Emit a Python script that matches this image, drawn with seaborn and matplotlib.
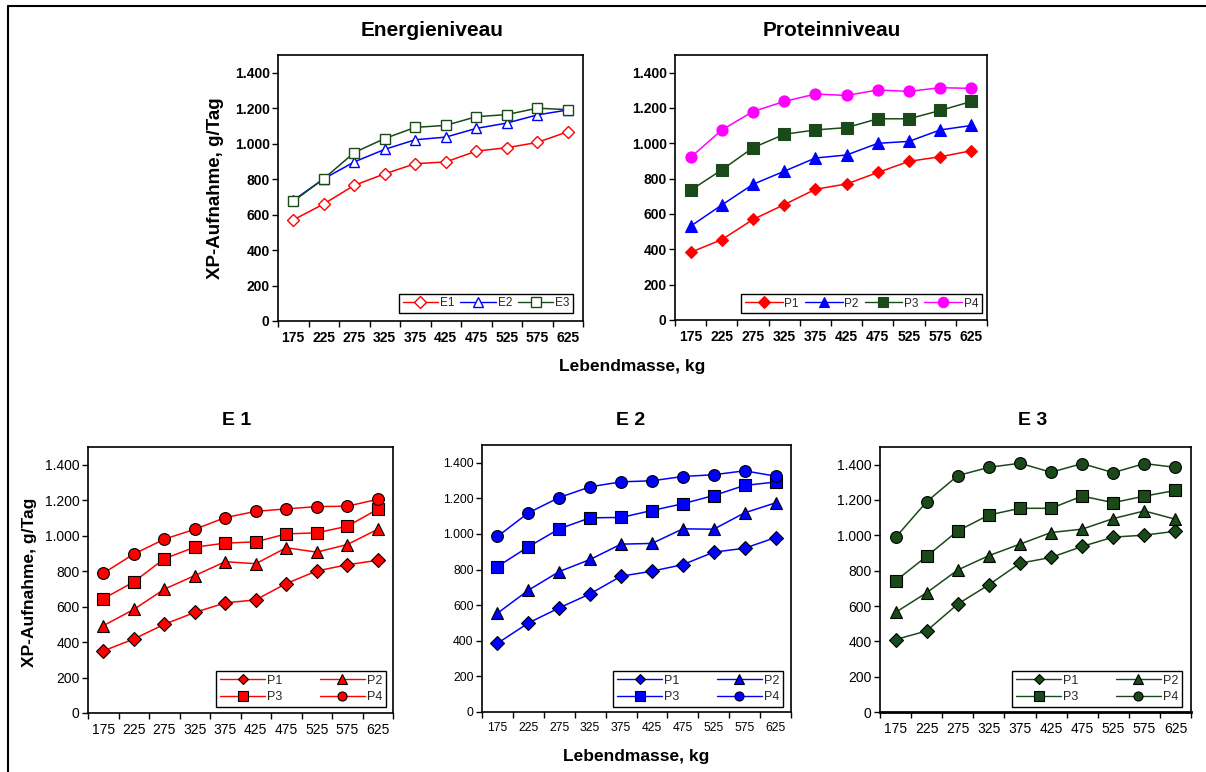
import numpy as np
import pandas as pd
import matplotlib
matplotlib.use("Agg")
import matplotlib.pyplot as plt
import seaborn as sns
from matplotlib.ticker import FuncFormatter
from matplotlib.lines import Line2D

sns.set_theme(style="white")
plt.rcParams['font.family'] = ['Liberation Sans', 'DejaVu Sans']

weights = ["175", "225", "275", "325", "375", "425", "475", "525", "575", "625"]
yticks = [0, 200, 400, 600, 800, 1000, 1200, 1400]

energy_E1 = [570, 660, 765, 830, 887, 897, 958, 977, 1007, 1067]
energy_E2 = [680, 802, 897, 968, 1022, 1037, 1086, 1116, 1162, 1190]
energy_E3 = [675, 802, 950, 1029, 1092, 1103, 1152, 1164, 1200, 1192]

protein_P1 = [383, 455, 569, 653, 740, 770, 835, 898, 924, 958]
protein_P2 = [531, 651, 768, 842, 917, 934, 1000, 1011, 1076, 1101]
protein_P3 = [734, 850, 975, 1051, 1076, 1089, 1139, 1139, 1186, 1237]
protein_P4 = [920, 1076, 1180, 1237, 1279, 1271, 1302, 1294, 1315, 1311]

e1_P1 = [350, 417, 500, 567, 621, 638, 730, 801, 836, 861]
e1_P2 = [492, 584, 698, 775, 853, 842, 932, 907, 950, 1036]
e1_P3 = [644, 739, 870, 935, 958, 965, 1010, 1016, 1053, 1149]
e1_P4 = [788, 896, 980, 1036, 1102, 1137, 1151, 1164, 1166, 1205]

e2_P1 = [386, 500, 585, 664, 763, 791, 828, 898, 920, 980]
e2_P2 = [555, 684, 789, 857, 943, 947, 1029, 1027, 1119, 1175]
e2_P3 = [817, 928, 1029, 1091, 1093, 1132, 1170, 1216, 1273, 1292]
e2_P4 = [986, 1119, 1205, 1265, 1293, 1299, 1323, 1333, 1355, 1325]

e3_P1 = [410, 459, 611, 720, 842, 875, 937, 990, 1001, 1023]
e3_P2 = [564, 675, 804, 885, 950, 1016, 1035, 1095, 1138, 1091]
e3_P3 = [742, 881, 1025, 1115, 1153, 1153, 1222, 1185, 1222, 1254]
e3_P4 = [988, 1190, 1338, 1385, 1408, 1357, 1406, 1355, 1406, 1385]

RED = "#FF0000"
BLUE = "#0000FF"
GREEN = "#1a4a1a"

W, H = 1206, 772
fig = plt.figure(figsize=(W / 100, H / 100), dpi=100)


def px_axes(l, r, t, b):
    return fig.add_axes([l / W, 1 - b / H, (r - l) / W, (b - t) / H])


def make_df(series):
    rows = []
    for name, vals in series.items():
        for w, v in zip(weights, vals):
            rows.append({"Lebendmasse": w, "XP": v, "Gruppe": name})
    return pd.DataFrame(rows)


def thousands(v, pos):
    return f"{int(v):,}".replace(",", ".")


def draw_panel(ax, series, colors, markers, style, ms, tick_size, tick_weight,
               legend_anchor, ncol, leg_ms, leg_fs, colspace, hlen):
    df = make_df(series)
    names = list(series.keys())
    sns.lineplot(data=df, x="Lebendmasse", y="XP", hue="Gruppe", style="Gruppe",
                 hue_order=names, style_order=names,
                 palette=dict(zip(names, colors)),
                 markers=dict(zip(names, markers)), dashes=False,
                 linewidth=1.1, markersize=ms, legend=False, ax=ax, sort=False)
    lines = ax.get_lines()[:len(names)]
    for ln, c in zip(lines, colors):
        if ln.get_marker() == "D":
            ln.set_markersize(ms * 0.8)
        if style == "open":
            ln.set_markerfacecolor("white")
            ln.set_markeredgecolor(c)
            ln.set_markeredgewidth(1.0)
        elif style == "filled":
            ln.set_markerfacecolor(c)
            ln.set_markeredgecolor(c)
            ln.set_markeredgewidth(0.8)
        else:
            ln.set_markerfacecolor(c)
            ln.set_markeredgecolor("black")
            ln.set_markeredgewidth(0.8)
    handles = []
    for ln in lines:
        f = 0.85 if ln.get_marker() == "D" else 1.0
        handles.append(Line2D([], [], color=ln.get_color(), lw=1.0,
                              marker=ln.get_marker(), ms=leg_ms * f,
                              mfc=ln.get_markerfacecolor(),
                              mec=ln.get_markeredgecolor(),
                              mew=ln.get_markeredgewidth()))
    labels = list(names)
    if ncol == 2:
        # fill row-wise: P1 P2 / P3 P4
        order = [0, 2, 1, 3]
        handles = [handles[i] for i in order]
        labels = [labels[i] for i in order]
    leg = ax.legend(handles, labels, loc="lower right", bbox_to_anchor=legend_anchor,
                    ncol=ncol, frameon=True, fancybox=False, framealpha=1,
                    edgecolor="black", fontsize=leg_fs, handlelength=hlen,
                    handletextpad=0.15, columnspacing=colspace,
                    borderpad=0.3, labelspacing=0.35, borderaxespad=0)
    leg.get_frame().set_linewidth(1.0)

    ax.set_xlim(-0.5, 9.5)
    ax.set_ylim(0, 1500)
    ax.set_yticks(yticks)
    ax.yaxis.set_major_formatter(FuncFormatter(thousands))
    ax.set_xticks(range(len(weights)))
    ax.set_xticklabels(weights)
    ax.set_xticks(np.arange(-0.5, 10, 1), minor=True)
    ax.tick_params(axis="x", which="major", length=0, pad=7,
                   labelsize=tick_size, colors="black")
    ax.tick_params(axis="x", which="minor", length=4, width=1, direction="out",
                   color="black", bottom=True)
    ax.tick_params(axis="y", which="major", length=4, width=1, direction="out",
                   left=True, labelsize=tick_size, colors="black", pad=2)
    for lab in ax.get_xticklabels() + ax.get_yticklabels():
        lab.set_fontweight(tick_weight)
    for s in ax.spines.values():
        s.set_visible(True)
        s.set_color("black")
        s.set_linewidth(1.2)
    ax.set_xlabel("")
    ax.set_ylabel("")
    ax.grid(False)


ax1 = px_axes(278, 583, 55, 321)
draw_panel(ax1, {"E1": energy_E1, "E2": energy_E2, "E3": energy_E3},
           [RED, BLUE, GREEN], ["D", "^", "s"], "open", 7.5, 10, "bold",
           (0.967, 0.03), 3, 7, 8.5, 0.5, 3.0)

ax2 = px_axes(675, 987, 55, 320)
draw_panel(ax2, {"P1": protein_P1, "P2": protein_P2, "P3": protein_P3, "P4": protein_P4},
           [RED, BLUE, GREEN, "#FF00FF"], ["D", "^", "s", "o"], "filled", 8, 10, "bold",
           (0.984, 0.026), 4, 7.5, 8.5, 0.5, 3.2)

ax3 = px_axes(88, 393, 447, 713)
draw_panel(ax3, {"P1": e1_P1, "P2": e1_P2, "P3": e1_P3, "P4": e1_P4},
           [RED] * 4, ["D", "^", "s", "o"], "edged", 8.5, 10, "normal",
           (0.977, 0.023), 2, 6.5, 9, 3.0, 3.6)

ax4 = px_axes(482, 791, 445, 712)
draw_panel(ax4, {"P1": e2_P1, "P2": e2_P2, "P3": e2_P3, "P4": e2_P4},
           [BLUE] * 4, ["D", "^", "s", "o"], "edged", 8.5, 8.8, "normal",
           (0.974, 0.019), 2, 6.5, 9, 3.0, 3.6)

ax5 = px_axes(880, 1191, 447, 712)
draw_panel(ax5, {"P1": e3_P1, "P2": e3_P2, "P3": e3_P3, "P4": e3_P4},
           [GREEN] * 4, ["D", "^", "s", "o"], "edged", 8.5, 10, "normal",
           (0.971, 0.019), 2, 6.5, 9, 3.0, 3.6)
ax5.spines["bottom"].set_linewidth(2.0)


def ftext(x, y, s, size, rot=0):
    fig.text(x / W, 1 - y / H, s, ha="center", va="center", fontsize=size,
             fontweight="bold", rotation=rot, color="black")


ftext(432, 30, "Energieniveau", 15)
ftext(832, 30, "Proteinniveau", 15)
ftext(237, 420, "E 1", 14)
ftext(631, 420, "E 2", 14)
ftext(1033, 420, "E 3", 14)
ftext(215, 188, "XP-Aufnahme, g/Tag", 13.5, 90)
ftext(30, 582, "XP-Aufnahme, g/Tag", 12.5, 90)
ftext(632, 367, "Lebendmasse, kg", 12.5)
ftext(636, 756, "Lebendmasse, kg", 12.5)

# outer frame (left and top edges visible in the reference)
fig.add_artist(Line2D([8 / W, 8 / W], [0, 1 - 6 / H], transform=fig.transFigure,
                      color="black", lw=1.5))
fig.add_artist(Line2D([8 / W, 1], [1 - 6 / H, 1 - 6 / H], transform=fig.transFigure,
                      color="black", lw=1.5))

fig.savefig("out.png", dpi=100)
